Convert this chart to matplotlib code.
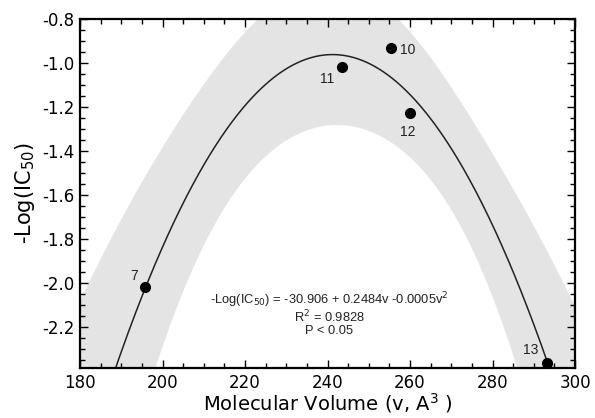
"""Parabolic fit of -Log(IC50) against molecular volume, with 95% confidence band."""
import numpy as np
import matplotlib
matplotlib.use("Agg")
import matplotlib.pyplot as plt
from matplotlib.ticker import MultipleLocator

# ── Data ────────────────────────────────────────────────────────────────
compound_ids = ["7", "10", "11", "12", "13"]
volume = [195.8, 255.4, 243.4, 260.0, 293.3]
neg_log_ic50 = [-2.02, -0.93, -1.02, -1.225, -2.362]

# label offsets (pixels) next to each point
label_dx = [-11, 17, -14, -2, -17]
label_dy = [11, -2, -12, -19, 13]

T_95 = 4.303  # two-sided t, df = 5 - 3

x_ticks = [180, 200, 220, 240, 260, 280, 300]
y_ticks = [-0.8, -1.0, -1.2, -1.4, -1.6, -1.8, -2.0, -2.2]

eq_lines = [r"-Log(IC$_{50}$) = -30.906 + 0.2484v -0.0005v$^2$",
            r"R$^2$ = 0.9828",
            "P < 0.05"]
eq_y = [-2.077, -2.155, -2.22]

# ── Quadratic fit and its confidence band ─────────────────────────────
X = np.column_stack([np.ones(len(volume)), volume, np.square(volume)])
beta, *_ = np.linalg.lstsq(X, neg_log_ic50, rcond=None)
resid = np.asarray(neg_log_ic50) - X @ beta
s2 = resid @ resid / (len(volume) - 3)

v = np.linspace(176, 304, 500)
Xg = np.column_stack([np.ones_like(v), v, v ** 2])
lev = np.einsum("ij,jk,ik->i", Xg, np.linalg.inv(X.T @ X), Xg)
fit = Xg @ beta
half = T_95 * np.sqrt(s2 * lev)

fig = plt.figure(figsize=(5.95, 4.18), dpi=100)
ax = fig.add_axes([0.1345, 0.1196, 0.832, 0.835])

ax.fill_between(v, fit - half, fit + half, color="#e4e4e4", lw=0, zorder=1)
ax.plot(v, fit, color="#222222", lw=1.1, zorder=2)

# ── Points + labels ───────────────────────────────────────────────────
ax.plot(volume, neg_log_ic50, "o", color="black", ms=7, zorder=3, clip_on=False)
for name, xv, yv, dx, dy in zip(compound_ids, volume, neg_log_ic50, label_dx, label_dy):
    ax.annotate(name, (xv, yv), xytext=(dx, dy), textcoords="offset pixels",
                ha="center", va="center", fontsize=10, family="Liberation Sans",
                color="#222222")

for line, yy in zip(eq_lines, eq_y):
    ax.text(240.4, yy, line, ha="center", va="center", fontsize=9.3,
            family="Liberation Sans", color="#222222")

# ── Axes styling ──────────────────────────────────────────────────────
ax.set_xlim(180, 300)
ax.set_ylim(-2.386, -0.8)
ax.set_xticks(x_ticks)
ax.set_yticks(y_ticks)
ax.set_yticklabels([f"{t:.1f}" for t in y_ticks])
ax.xaxis.set_minor_locator(MultipleLocator(5))
ax.yaxis.set_minor_locator(MultipleLocator(0.05))
ax.tick_params(which="both", direction="in", top=True, right=True, width=1.0)
ax.tick_params(which="major", length=6, labelsize=12, pad=4)
ax.tick_params(which="minor", length=3.5)
for s in ax.spines.values():
    s.set_linewidth(1.6)

ax.set_xlabel(r"Molecular Volume (v, A$^3$ )", fontsize=14, labelpad=0)
ax.set_ylabel(r"-Log(IC$_{50}$)", fontsize=15, labelpad=4)

fig.savefig("out.png", dpi=100)
